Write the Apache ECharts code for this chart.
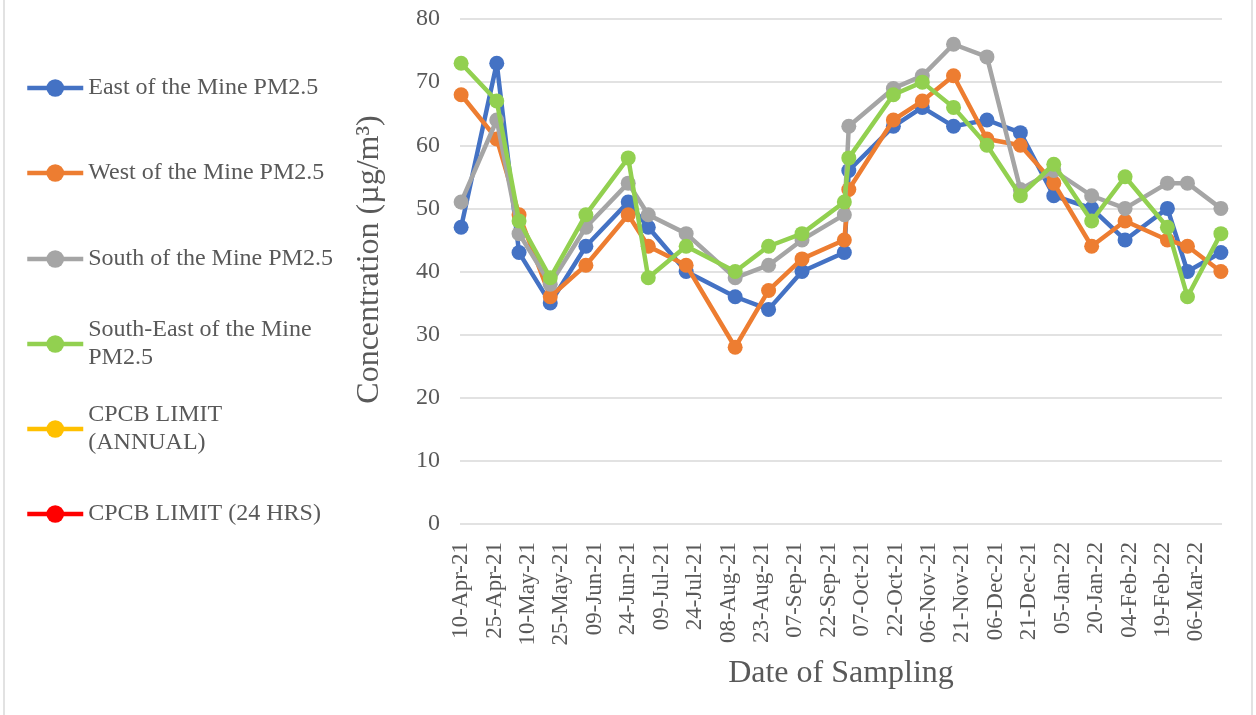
<!DOCTYPE html>
<html>
<head>
<meta charset="utf-8">
<script src="https://cdn.jsdelivr.net/npm/echarts@6/dist/echarts.min.js"></script>
<style>
html,body{margin:0;padding:0;background:#fff;}
#chart{width:1256px;height:715px;}
</style>
</head>
<body>
<div id="chart"></div>
<script>
// ---- data ----
const sampleDates = ['2021-04-10','2021-04-26','2021-05-06','2021-05-20','2021-06-05','2021-06-24','2021-07-03','2021-07-20','2021-08-11','2021-08-26','2021-09-10','2021-09-29','2021-10-01','2021-10-21','2021-11-03','2021-11-17','2021-12-02','2021-12-17','2022-01-01','2022-01-18','2022-02-02','2022-02-21','2022-03-02','2022-03-17'];
const eastPM25      = [47,73,43,35,44,51,47,40,36,34,40,43,56,63,66,63,64,62,52,50,45,50,40,43];
const westPM25      = [68,61,49,36,41,49,44,41,28,37,42,45,53,64,67,71,61,60,54,44,48,45,44,40];
const southPM25     = [51,64,46,38,47,54,49,46,39,41,45,49,63,69,71,76,74,53,56,52,50,54,54,50];
const southEastPM25 = [73,67,48,39,49,58,39,44,40,44,46,51,58,68,70,66,60,52,57,48,55,47,36,46];
const cpcbAnnual = [];
const cpcb24h = [];
const tickLabels = ['10-Apr-21','25-Apr-21','10-May-21','25-May-21','09-Jun-21','24-Jun-21','09-Jul-21','24-Jul-21','08-Aug-21','23-Aug-21','07-Sep-21','22-Sep-21','07-Oct-21','22-Oct-21','06-Nov-21','21-Nov-21','06-Dec-21','21-Dec-21','05-Jan-22','20-Jan-22','04-Feb-22','19-Feb-22','06-Mar-22'];
const seriesNames = ['East of the Mine PM2.5','West of the Mine PM2.5','South of the Mine PM2.5','South-East of the Mine PM2.5','CPCB LIMIT (ANNUAL)','CPCB LIMIT (24 HRS)'];
const legendLabels = ['East of the Mine PM2.5','West of the Mine PM2.5','South of the Mine PM2.5','South-East of the Mine\nPM2.5','CPCB LIMIT\n(ANNUAL)','CPCB LIMIT (24 HRS)'];

// ---- helpers ----
const DAY = 86400000;
const base = Date.UTC(2021,3,10);
function isoToDay(s){const p=s.split('-');return Math.round((Date.UTC(+p[0],+p[1]-1,+p[2])-base)/DAY);}
const MON={Jan:0,Feb:1,Mar:2,Apr:3,May:4,Jun:5,Jul:6,Aug:7,Sep:8,Oct:9,Nov:10,Dec:11};
function labelToDay(s){const p=s.split('-');return Math.round((Date.UTC(2000+(+p[2]),MON[p[1]],+p[0])-base)/DAY);}
const tickDays = tickLabels.map(labelToDay);
const dayToLabel = {};
tickDays.forEach((d,i)=>{dayToLabel[d]=tickLabels[i];});
const xDays = sampleDates.map(isoToDay);
function pts(vals){return vals.map((v,i)=>[xDays[i],v]);}

const FONT = 'Liberation Serif';
const TXT = '#595959';
const colors = ['#4472C4','#ED7D31','#A5A5A5','#92D050','#FFC000','#FF0000'];
const allData = [eastPM25,westPM25,southPM25,southEastPM25,cpcbAnnual,cpcb24h];

const series = seriesNames.map((n,i)=>({
  name:n, type:'line', data:pts(allData[i]),
  symbol:'circle', symbolSize:15, showSymbol:true,
  lineStyle:{width:4.5,color:colors[i]},
  itemStyle:{color:colors[i]},
  emphasis:{disabled:true}, animation:false, z: 2+i
}));

const iconY = [88,173,259,344,429,514];
const LH = 28;
const legends = seriesNames.map((n,i)=>{
  const two = legendLabels[i].indexOf('\n')>=0;
  return {
    show:true, orient:'vertical', left:25, top: two ? iconY[i]-42 : iconY[i]-14,
    padding:0, itemWidth:56, itemHeight:22, itemGap:0,
    selectedMode:false,
    lineStyle:{width:4.5},
    data:[{name:n, textStyle: two ? {padding:[LH,0,0,0]} : {}}],
    formatter:(name)=>legendLabels[seriesNames.indexOf(name)],
    textStyle:{fontFamily:FONT,fontSize:24,color:TXT,lineHeight:LH}
  };
});

const chart = echarts.init(document.getElementById('chart'),null,{renderer:'canvas'});
chart.setOption({
  animation:false,
  backgroundColor:'#fff',
  color:colors,
  grid:{left:460,right:34,top:19,bottom:191,containLabel:false},
  legend:legends,
  xAxis:{
    type:'value', min:-0.5, max:341.5,
    name:'Date of Sampling', nameLocation:'middle', nameGap:134,
    nameTextStyle:{fontFamily:FONT,fontSize:32,color:TXT},
    axisLine:{show:false}, axisTick:{show:false}, splitLine:{show:false},
    axisLabel:{
      customValues:tickDays, rotate:90, margin:18,
      fontFamily:FONT,fontSize:23,color:TXT,
      formatter:(v)=>dayToLabel[Math.round(v)]||''
    }
  },
  yAxis:{
    type:'value', min:0, max:80, interval:10,
    name:'Concentration (µg/m³)', nameLocation:'middle', nameGap:74, nameRotate:90,
    nameTextStyle:{fontFamily:FONT,fontSize:32,color:TXT,padding:[0,0,0,24]},
    axisLine:{show:false}, axisTick:{show:false},
    splitLine:{show:true,lineStyle:{color:'#D9D9D9',width:1.5}},
    axisLabel:{margin:20,fontFamily:FONT,fontSize:24,color:TXT}
  },
  graphic:[{type:'rect',shape:{x:4,y:-5,width:1248,height:730},style:{fill:'none',stroke:'#D9D9D9',lineWidth:1.5},silent:true,z:-1}],
  series:series
});
</script>
</body>
</html>
